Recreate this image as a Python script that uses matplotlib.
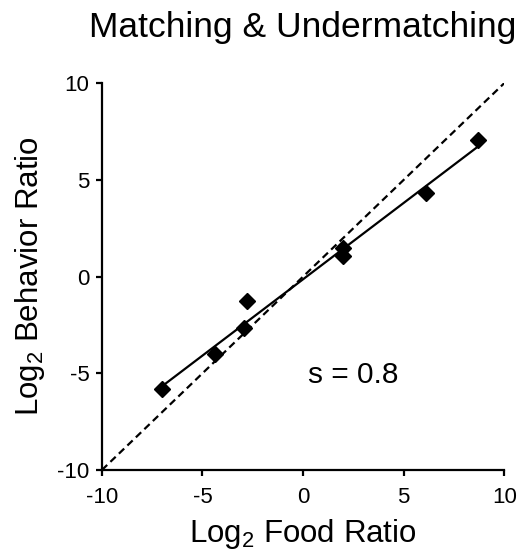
import matplotlib
matplotlib.use("Agg")
import matplotlib.pyplot as plt
import numpy as np

plt.rcParams["font.family"] = ["Liberation Sans", "DejaVu Sans"]
plt.rcParams["mathtext.default"] = "regular"
plt.rcParams["axes.unicode_minus"] = False

# data
food = np.array([-7.0, -4.4, -2.8, -2.95, 2.0, 2.0, 6.1, 8.7])
behavior = np.array([-5.8, -4.0, -1.25, -2.65, 1.05, 1.5, 4.3, 7.05])
ticks = [-10, -5, 0, 5, 10]
slope_label = "s = 0.8"

fig = plt.figure(figsize=(5.28, 5.51), dpi=100)
ax = fig.add_axes([0.193, 0.147, 0.762, 0.702])

# perfect matching line
ax.plot([-10, 10], [-10, 10], color="black", linestyle=(0, (3.3, 2)), linewidth=1.6)

# fitted line
m, b = np.polyfit(food, behavior, 1)
xs = np.array([food.min(), food.max()])
ax.plot(xs, m * xs + b, color="black", linewidth=1.6)

ax.plot(food, behavior, linestyle="none", marker="D", markersize=8,
        color="black")

ax.text(2.5, -5.1, slope_label, fontsize=21.5, ha="center", va="center")

ax.set_xlim(-10, 10)
ax.set_ylim(-10, 10)
ax.set_xticks(ticks)
ax.set_yticks(ticks)
ax.spines["top"].set_visible(False)
ax.spines["right"].set_visible(False)
for s in ("left", "bottom"):
    ax.spines[s].set_linewidth(1.6)
ax.tick_params(direction="out", length=4, width=1.6, labelsize=16, pad=5)
ax.tick_params(axis="x", pad=8.5)

ax.set_xlabel(r"Log$_2$ Food Ratio", fontsize=22.5, labelpad=6)
ax.set_ylabel(r"Log$_2$ Behavior Ratio", fontsize=22.5, labelpad=7)
fig.text(0.574, 1 - 36.7 / 551, "Matching & Undermatching", fontsize=25.5,
         ha="center", va="baseline")

fig.savefig("out.png", dpi=100, facecolor="white")
